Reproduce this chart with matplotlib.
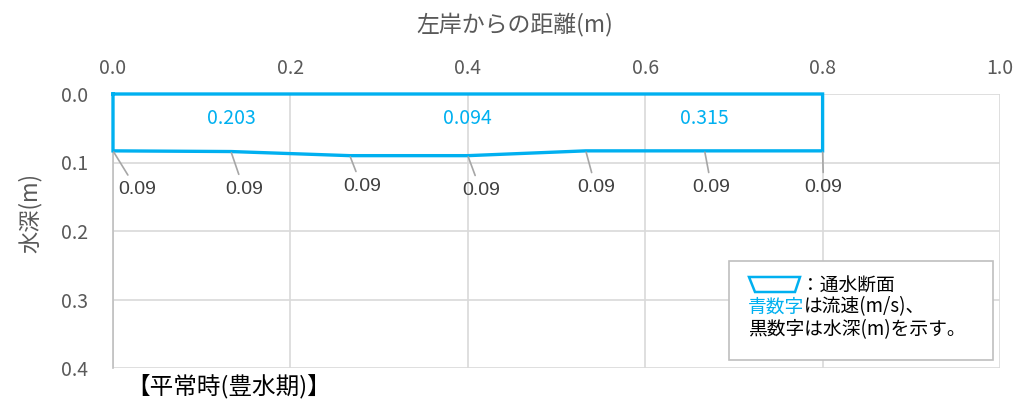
import matplotlib.pyplot as plt
from matplotlib.patches import Polygon, Rectangle

plt.rcParams['font.family'] = ['Noto Sans CJK JP', 'DejaVu Sans']

# 測線位置(左岸からの距離, m) と 水深(m)
stations = [0.0, 0.133, 0.267, 0.4, 0.533, 0.667, 0.8]
depths = [0.083, 0.084, 0.090, 0.090, 0.083, 0.083, 0.083]
depth_labels = ["0.09", "0.09", "0.09", "0.09", "0.09", "0.09", "0.09"]

# 流速(m/s) と その表示位置
vel_x = [0.133, 0.4, 0.667]
vel_values = ["0.203", "0.094", "0.315"]

x_ticks = [0.0, 0.2, 0.4, 0.6, 0.8, 1.0]
y_ticks = [0.0, 0.1, 0.2, 0.3, 0.4]

BLUE = "#00B0F0"
GRID = "#D9D9D9"
TICK = "#595959"

W, H = 1016, 408
fig = plt.figure(figsize=(W / 100, H / 100), dpi=100)
ax = fig.add_axes([113 / W, 1 - 368 / H, (1000 - 113) / W, (368 - 94) / H])

ax.set_xlim(0, 1.0)
ax.set_ylim(0.4, 0)
ax.xaxis.tick_top()
ax.set_xticks(x_ticks)
ax.set_yticks(y_ticks)
ax.set_xticklabels([f"{v:.1f}" for v in x_ticks])
ax.set_yticklabels([f"{v:.1f}" for v in y_ticks])
ax.tick_params(length=0, labelsize=14, colors=TICK)
ax.tick_params(axis="x", pad=11)
ax.tick_params(axis="y", pad=18)
ax.grid(True, color=GRID, lw=1.2)
for s in ax.spines.values():
    s.set_visible(False)
ax.spines["left"].set_visible(True)
ax.spines["left"].set_color("#BFBFBF")
ax.spines["left"].set_linewidth(1.2)


def px(x, y):
    return (x / W, 1 - y / H)


fig.text(*px(515, 24), "左岸からの距離(m)", fontsize=16.5, color=TICK, ha="center", va="center")
fig.text(*px(30, 213), "水深(m)", fontsize=16, color=TICK, ha="center", va="center", rotation=90)

# 通水断面
xs = [stations[0]] + stations + [stations[-1], stations[0]]
ys = [0.0] + depths + [0.0, 0.0]
ax.plot(xs, ys, color=BLUE, lw=2.4, solid_joinstyle="miter", clip_on=False, zorder=3)

# 水深ラベル (引出線つき)
offsets = [(24, -39), (13, -38), (12, -31), (13, -35), (10, -37), (7, -37), (1, -37)]
for x, d, lab, off in zip(stations, depths, depth_labels, offsets):
    ax.annotate(lab, xy=(x, d), xytext=off, textcoords="offset pixels",
                ha="center", va="center", fontsize=14, color="#404040",
                family=["Liberation Sans", "DejaVu Sans"],
                arrowprops=dict(arrowstyle="-", color="#A6A6A6", lw=1.2,
                                shrinkA=3, shrinkB=1))

# 流速ラベル
for x, v in zip(vel_x, vel_values):
    ax.text(x, 0.036, v, ha="center", va="center", fontsize=14, color=BLUE)

# 凡例ボックス
fig.patches.append(Rectangle(px(729, 360), 264 / W, 99 / H, transform=fig.transFigure,
                             facecolor="white", edgecolor="#BFBFBF", lw=1.2, zorder=5))
fig.patches.append(Polygon([px(749, 277), px(800, 277), px(795, 292), px(755, 292)],
                           closed=True, transform=fig.transFigure, fill=False,
                           edgecolor=BLUE, lw=1.8, zorder=6))
fig.text(*px(801, 285), "：通水断面", fontsize=13.5, va="center", ha="left", zorder=6)
t1 = fig.text(*px(748, 307), "青数字", fontsize=13.5, color=BLUE, va="center", ha="left", zorder=6)
fig.canvas.draw()
bb = t1.get_window_extent()
fig.text(bb.x1 / W, 1 - 307 / H, "は流速(m/s)、", fontsize=13.5, va="center", ha="left", zorder=6)
fig.text(*px(748, 330), "黒数字は水深(m)を示す。", fontsize=13.5, va="center", ha="left", zorder=6)

fig.text(*px(126, 386), "【平常時(豊水期)】", fontsize=17, va="center", ha="left")

fig.savefig("out.png", dpi=100)
